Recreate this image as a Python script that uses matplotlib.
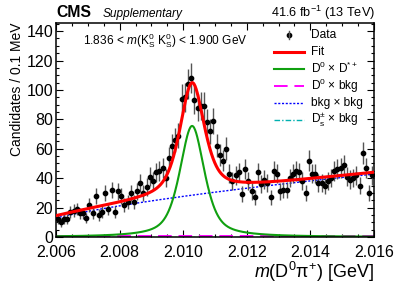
import numpy as np
import matplotlib
matplotlib.use('Agg')
from matplotlib import pyplot as plt
from matplotlib.lines import Line2D
from matplotlib.ticker import MultipleLocator

plt.rcParams['font.family'] = ['Liberation Sans', 'DejaVu Sans']
plt.rcParams['mathtext.fontset'] = 'custom'
plt.rcParams['mathtext.rm'] = 'Liberation Sans'
plt.rcParams['mathtext.it'] = 'Liberation Sans:italic'
plt.rcParams['mathtext.bf'] = 'Liberation Sans:bold'

# data: candidates per 0.1 MeV bin, 2.006 - 2.016 GeV
bin_lo = 2.006
bin_hi = 2.016
n_bins = 100
counts = [12, 10, 12, 12, 17, 18, 19, 16, 16, 13,
          22, 16, 28, 15, 17, 30, 19, 32, 17, 31,
          28, 22, 24, 30, 24, 31, 37, 30, 34, 41,
          38, 44, 45, 47, 40, 54, 62, 66, 69, 94,
          95, 104, 108, 93, 88, 89, 89, 78, 72, 79,
          62, 56, 52, 60, 43, 38, 42, 44, 29, 46,
          38, 31, 27, 44, 36, 39, 37, 27, 45, 43,
          31, 32, 32, 40, 43, 45, 44, 38, 30, 52,
          43, 43, 37, 37, 35, 38, 40, 45, 46, 47,
          49, 41, 39, 40, 42, 35, 57, 47, 30, 42]

# fit components (parameters)
sig_peak = 75.5
sig_mean = 2.01028
sig_sigma = 0.00039
sig_gamma = 0.00046
sig_frac_lor = 0.6
bkg_norm = 620.0
bkg_thr = 2.0044
bkg_pow = 0.6
d0bkg_level = 0.7
dsbkg_level = 0.3

edges = np.linspace(bin_lo, bin_hi, n_bins + 1)
centers = 0.5 * (edges[1:] + edges[:-1])
counts = np.array(counts, dtype=float)
errs = np.sqrt(counts)

x = np.linspace(bin_lo, bin_hi, 600)
sig = sig_peak * ((1 - sig_frac_lor) * np.exp(-0.5 * ((x - sig_mean) / sig_sigma) ** 2)
                  + sig_frac_lor / (1 + ((x - sig_mean) / sig_gamma) ** 2))
bkg = bkg_norm * (x - bkg_thr) ** bkg_pow
d0bkg = np.full_like(x, d0bkg_level)
dsbkg = np.full_like(x, dsbkg_level)
total = sig + bkg + d0bkg + dsbkg

c_red = '#ff0000'
c_green = '#10a010'
c_mag = '#ff00ff'
c_blue = '#0000ff'
c_cyan = '#00b0b0'

fig = plt.figure(figsize=(3.99, 2.86), dpi=100)
ax = fig.add_axes([0.1404, 0.1713, 0.9373 - 0.1404, 0.9196 - 0.1713])

ax.plot(x, d0bkg, color=c_mag, lw=1.4, dashes=(7, 3.5), zorder=2)
ax.plot(x, dsbkg, color=c_cyan, lw=1.0, dashes=(4, 1.5, 1, 1.5), zorder=2)
ax.plot(x, bkg, color=c_blue, lw=1.0, dashes=(1.5, 1.2), zorder=2)
ax.plot(x, sig, color=c_green, lw=1.5, zorder=2)
ax.errorbar(centers, counts, yerr=errs, fmt='o', color='black', ms=3.1,
            ecolor='#555555', elinewidth=1.0, capsize=0, zorder=3)
ax.plot(x, total, color=c_red, lw=2.2, zorder=4)

ax.set_xlim(bin_lo, bin_hi)
ax.set_ylim(0, 145.5)
ax.xaxis.set_major_locator(MultipleLocator(0.002))
ax.xaxis.set_minor_locator(MultipleLocator(0.0005))
ax.yaxis.set_major_locator(MultipleLocator(20))
ax.yaxis.set_minor_locator(MultipleLocator(5))
ax.xaxis.set_major_formatter(matplotlib.ticker.FormatStrFormatter('%.3f'))
ax.tick_params(which='both', direction='in', top=True, right=True, labelsize=11.5, width=0.8)
ax.tick_params(which='major', length=5)
ax.tick_params(which='minor', length=2.5)
ax.tick_params(axis='x', pad=6)
ax.tick_params(axis='y', pad=2)
for s in ax.spines.values():
    s.set_linewidth(1.1)

ax.set_xlabel(r'$m$(D$^{0}$π$^{+}$) [GeV]', fontsize=13, loc='right', labelpad=0)
ax.set_ylabel('Candidates / 0.1 MeV', fontsize=10, loc='top', labelpad=2)

fig.text(0.142, 0.94, 'CMS', fontsize=11.3, fontweight='bold', ha='left', va='baseline')
fig.text(0.258, 0.94, 'Supplementary', fontsize=8.6, style='italic', ha='left', va='baseline')
fig.text(0.940, 0.94, r'41.6 fb$^{-1}$ (13 TeV)', fontsize=9.2, ha='right', va='baseline')
fig.text(0.208, 0.858, r'1.836 < $m$(K$_{\rm S}^{0}$ K$_{\rm S}^{0}$) < 1.900 GeV',
         fontsize=8.6, ha='left', va='center')

# legend
leg_rows = [('Data', None), ('Fit', (c_red, 2.2, None)),
            (r'D$^{0}$ × D$^{*+}$', (c_green, 1.5, None)),
            (r'D$^{0}$ × bkg', (c_mag, 1.4, (7, 3.5))),
            ('bkg × bkg', (c_blue, 1.0, (1.5, 1.2))),
            (r'D$_{\rm s}^{\pm}$ × bkg', (c_cyan, 1.0, (4, 1.5, 1, 1.5)))]
W, H = 399.0, 286.0
y0 = 35.0
dy = 16.9
for i, (lab, sty) in enumerate(leg_rows):
    yy = 1 - (y0 + i * dy) / H
    if sty is None:
        fig.add_artist(Line2D([289 / W], [yy], marker='o', color='black', ms=3.1))
        fig.add_artist(Line2D([289 / W, 289 / W], [yy - 4 / H, yy + 4 / H], color='#555555', lw=1.0))
    else:
        col, lw, dsh = sty
        ln = Line2D([274 / W, 304 / W], [yy, yy], color=col, lw=lw)
        if dsh is not None:
            ln.set_dashes(dsh)
        fig.add_artist(ln)
    fig.text(311 / W, yy, lab, fontsize=8.6, ha='left', va='center')

fig.savefig('out.png', dpi=100)
